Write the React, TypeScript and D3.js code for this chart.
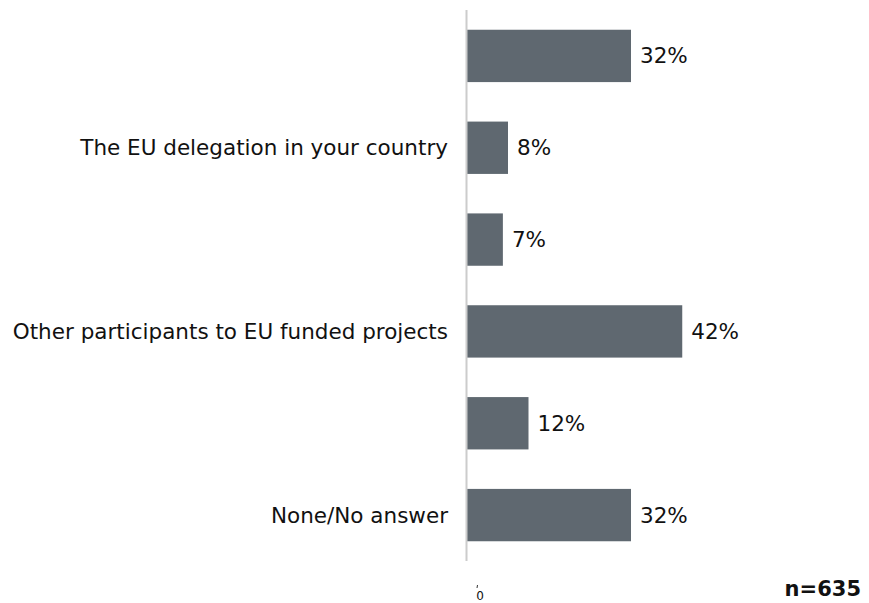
import { useEffect, useRef } from "react";
import * as d3 from "d3";

const categories = [
  "Other national authorities",
  "The EU delegation in your country",
  "The European Commission",
  "Other participants to EU funded projects",
  "National contact points",
  "None/No answer",
];
// only every other category label is shown in the reference
const showLabel = [false, true, false, true, false, true];
const values = [32, 8, 7, 42, 12, 32];
const sampleNote = "n=635";

export default function App() {
  const ref = useRef<SVGSVGElement>(null);

  useEffect(() => {
    if (!ref.current) return;
    const width = 869;
    const height = 603;
    const svg = d3.select(ref.current);
    svg.selectAll("*").remove();
    svg.attr("width", width).attr("height", height);

    const font = "'DejaVu Sans', Verdana, sans-serif";
    const x0 = 467;

    const x = d3.scaleLinear().domain([0, 100]).range([x0, x0 + 512.5]);
    const y = d3
      .scaleBand()
      .domain(categories)
      .range([10, 561])
      .paddingInner(0.43)
      .paddingOuter(0.215);

    const rows = categories.map((c, i) => ({ c, v: values[i], show: showLabel[i] }));

    svg
      .selectAll(".bar")
      .data(rows)
      .enter()
      .append("rect")
      .attr("class", "bar")
      .attr("x", x(0))
      .attr("y", (d) => y(d.c)!)
      .attr("width", (d) => x(d.v) - x(0))
      .attr("height", y.bandwidth())
      .attr("fill", "#5f6870");

    // axis line
    svg
      .append("line")
      .attr("x1", x0 - 0.5)
      .attr("x2", x0 - 0.5)
      .attr("y1", 10)
      .attr("y2", 561)
      .attr("stroke", "#cccccc")
      .attr("stroke-width", 2);

    // value labels
    svg
      .selectAll(".val")
      .data(rows)
      .enter()
      .append("text")
      .attr("class", "val")
      .attr("x", (d) => x(d.v) + 9)
      .attr("y", (d) => y(d.c)! + y.bandwidth() / 2)
      .attr("dy", "0.35em")
      .attr("font-family", font)
      .attr("font-size", 21.5)
      .attr("fill", "#111")
      .text((d) => `${d.v}%`);

    // category labels
    svg
      .selectAll(".cat")
      .data(rows.filter((d) => d.show))
      .enter()
      .append("text")
      .attr("class", "cat")
      .attr("x", x0 - 19)
      .attr("y", (d) => y(d.c)! + y.bandwidth() / 2)
      .attr("dy", "0.35em")
      .attr("text-anchor", "end")
      .attr("font-family", font)
      .attr("font-size", 21.5)
      .attr("fill", "#111")
      .text((d) => d.c);

    // tiny zero tick
    svg
      .append("line")
      .attr("x1", x(0) + 10.5)
      .attr("x2", x(0) + 10)
      .attr("y1", 585)
      .attr("y2", 588)
      .attr("stroke", "#333")
      .attr("stroke-width", 1);
    svg
      .append("text")
      .attr("x", x(0) + 13)
      .attr("y", 600)
      .attr("text-anchor", "middle")
      .attr("font-family", font)
      .attr("font-size", 12)
      .attr("fill", "#111")
      .text("0");

    svg
      .append("text")
      .attr("x", 861)
      .attr("y", 596)
      .attr("text-anchor", "end")
      .attr("font-family", font)
      .attr("font-size", 21)
      .attr("font-weight", "bold")
      .attr("fill", "#111")
      .text(sampleNote);
  }, []);

  return (
    <div style={{ position: "absolute", left: 0, top: 0 }}>
      <svg ref={ref} style={{ display: "block" }} />
    </div>
  );
}
